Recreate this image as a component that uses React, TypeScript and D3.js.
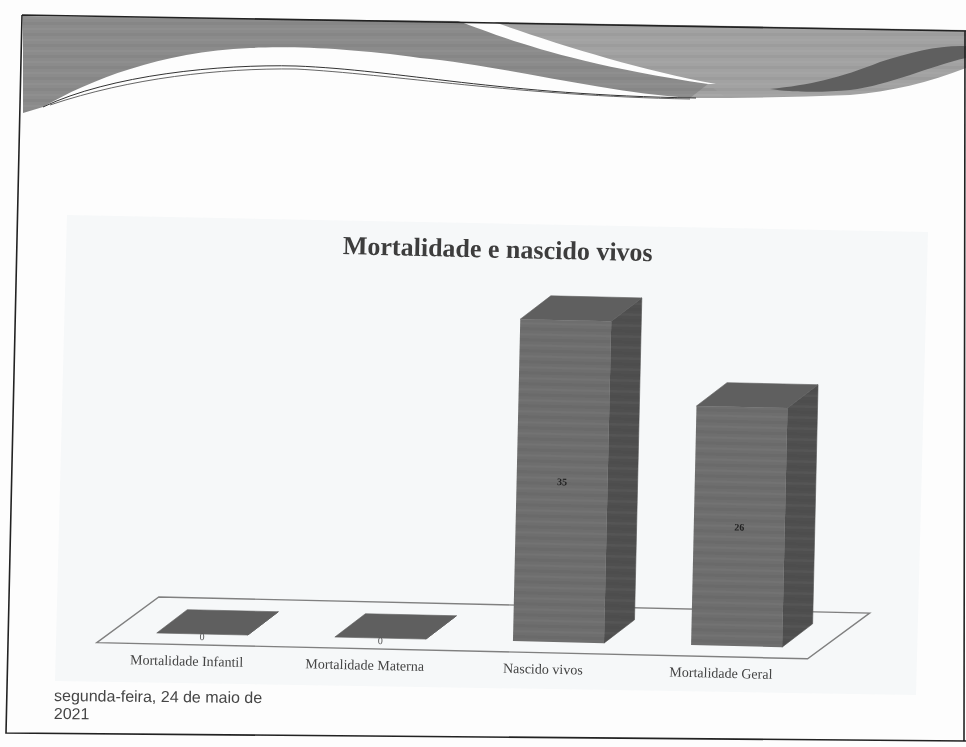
import { useEffect, useRef } from 'react';
import * as d3 from 'd3';

const categories = ['Mortalidade Infantil', 'Mortalidade Materna', 'Nascido vivos', 'Mortalidade Geral'];
const values = [0, 0, 35, 26];
const chartTitle = 'Mortalidade e nascido vivos';
const dateLines = ['segunda-feira, 24 de maio de', '2021'];

const WIDTH = 966;
const HEIGHT = 747;

export default function App() {
    const svgRef = useRef<SVGSVGElement>(null);

    useEffect(() => {
        if (!svgRef.current) return;

        // Clear previous chart
        d3.select(svgRef.current).selectAll('*').remove();

        const svg = d3.select(svgRef.current)
            .attr('width', WIDTH)
            .attr('height', HEIGHT)
            .style('position', 'absolute')
            .style('left', 0)
            .style('top', 0);

        const defs = svg.append('defs');
        defs.append('filter').attr('id', 'scan')
            .append('feGaussianBlur').attr('stdDeviation', 0.55);

        // Horizontal scanner banding
        const bands = defs.append('pattern')
            .attr('id', 'bands')
            .attr('patternUnits', 'userSpaceOnUse')
            .attr('width', 8)
            .attr('height', 11);
        bands.append('rect').attr('width', 8).attr('height', 3).attr('fill', '#000').attr('opacity', 0.035);
        bands.append('rect').attr('y', 6).attr('width', 8).attr('height', 2).attr('fill', '#fff').attr('opacity', 0.03);

        const root = svg.append('g').attr('filter', 'url(#scan)');

        root.append('rect').attr('width', WIDTH).attr('height', HEIGHT).attr('fill', '#fdfdfd');

        // Slide banner
        const leftBanner = 'M23,16 L458,21 C500,36 560,62 708,84 L725,97 L690,98 C600,92 500,65 420,58 C350,48 290,46 250,48 C160,52 90,80 43,107 L23,113 Z';
        const rightBanner = 'M494,22 L966,30 L966,68 C930,82 890,92 850,95 C800,97 750,98 690,98 L708,84 L716,84 C640,70 560,45 494,22 Z';
        root.append('path').attr('d', leftBanner).attr('fill', '#8b8b8b');
        root.append('path').attr('d', rightBanner).attr('fill', '#a2a2a2');
        root.append('path').attr('d', leftBanner).attr('fill', 'url(#bands)');
        root.append('path').attr('d', rightBanner).attr('fill', 'url(#bands)');
        root.append('path')
            .attr('d', 'M770,89 C810,85 840,78 880,62 C910,52 940,45 966,46 L966,58 C930,66 890,85 850,90 C820,93 790,92 770,89 Z')
            .attr('fill', '#5f5f5f');
        root.append('path')
            .attr('d', 'M43,107 C110,75 220,64 296,66 C400,70 500,95 696,98')
            .attr('fill', 'none').attr('stroke', '#333').attr('stroke-width', 1);
        root.append('path')
            .attr('d', 'M50,105 C130,78 220,68 296,69 C390,74 520,96 690,99')
            .attr('fill', 'none').attr('stroke', '#555').attr('stroke-width', 0.9);

        // Slide frame, slightly skewed by the scan
        root.append('path')
            .attr('d', 'M22,15 L966,31 M22,15 L6,733 L966,741 M965,31 L964,741')
            .attr('fill', 'none').attr('stroke', '#222').attr('stroke-width', 1.6);

        // Chart panel
        root.append('path')
            .attr('d', 'M67,215 L928,232 L916,695 L55,681 Z')
            .attr('fill', '#f6f8f9');

        // Everything in the chart leans by the same scan angle
        const chart = root.append('g').attr('transform', 'rotate(1.3 157 633)');

        const baseline = 633;
        const x = d3.scaleBand<string>()
            .domain(categories)
            .range([111, 822])
            .paddingInner(0.489)
            .paddingOuter(0.24)
            .align(0.535);
        const y = d3.scaleLinear().domain([0, 35]).range([baseline, 311]);

        const depthX = 30;
        const depthY = -24;

        // Floor
        const floorFront = baseline + 11;
        chart.append('path')
            .attr('d', `M${x.range()[0] - 14},${floorFront} L${x.range()[1] - 14},${floorFront} L${x.range()[1] + 47},${floorFront - 47} L${x.range()[0] + 47},${floorFront - 47} Z`)
            .attr('fill', 'none')
            .attr('stroke', '#808080')
            .attr('stroke-width', 1.4);

        const bars = chart.selectAll('.bar')
            .data(categories.map((c, i) => ({ c, v: values[i] })))
            .enter()
            .append('g')
            .attr('class', 'bar');

        const bw = x.bandwidth();

        const sidePath = (d: { c: string; v: number }) => {
            const r = (x(d.c) || 0) + bw;
            return `M${r},${baseline} L${r + depthX},${baseline + depthY} L${r + depthX},${y(d.v) + depthY} L${r},${y(d.v)} Z`;
        };
        const topPath = (d: { c: string; v: number }) => {
            const l = x(d.c) || 0;
            const t = y(d.v);
            return `M${l},${t} L${l + bw},${t} L${l + bw + depthX},${t + depthY} L${l + depthX},${t + depthY} Z`;
        };

        // Side face
        bars.append('path').attr('d', sidePath).attr('fill', '#505050').attr('stroke', '#505050').attr('stroke-width', 0.6);
        bars.append('path').attr('d', sidePath).attr('fill', 'url(#bands)');

        // Top face
        bars.append('path').attr('d', topPath).attr('fill', '#5f5f5f').attr('stroke', '#5f5f5f').attr('stroke-width', 0.6);

        // Front face
        bars.append('rect')
            .attr('x', d => x(d.c) || 0)
            .attr('y', d => y(d.v))
            .attr('width', bw)
            .attr('height', d => baseline - y(d.v))
            .attr('fill', '#6e6e6e');
        bars.append('rect')
            .attr('x', d => x(d.c) || 0)
            .attr('y', d => y(d.v))
            .attr('width', bw)
            .attr('height', d => baseline - y(d.v))
            .attr('fill', 'url(#bands)');

        // Value labels
        bars.append('text')
            .attr('x', d => (x(d.c) || 0) + bw / 2)
            .attr('y', d => (d.v === 0 ? baseline + 6 : (y(d.v) + baseline) / 2 + 4))
            .attr('text-anchor', 'middle')
            .attr('font-family', '"Liberation Serif", serif')
            .attr('font-weight', d => (d.v === 0 ? 'normal' : 'bold'))
            .attr('font-size', 10)
            .attr('fill', d => (d.v === 0 ? '#555' : '#222'))
            .text(d => d.v);

        // Category axis
        const axis = chart.append('g')
            .attr('transform', `translate(-15,${baseline + 19})`)
            .call(d3.axisBottom(x).tickSize(0).tickSizeOuter(0));
        axis.select('.domain').remove();
        axis.selectAll('text')
            .attr('font-family', '"Liberation Serif", serif')
            .attr('font-size', 14)
            .attr('fill', '#444');

        // Title
        chart.append('text')
            .attr('x', 489)
            .attr('y', 250)
            .attr('text-anchor', 'middle')
            .attr('font-family', '"Liberation Serif", serif')
            .attr('font-weight', 'bold')
            .attr('font-size', 26)
            .attr('fill', '#3d3d3d')
            .text(chartTitle);

        // Date footer
        const footer = root.append('g').attr('transform', 'rotate(0.6 54 701)');
        footer.selectAll('text')
            .data(dateLines)
            .enter()
            .append('text')
            .attr('x', 54)
            .attr('y', (_, i) => 701 + i * 18)
            .attr('font-family', '"Liberation Sans", sans-serif')
            .attr('font-size', 16)
            .attr('fill', '#444')
            .text(d => d);
    }, []);

    return <svg ref={svgRef} />;
}
